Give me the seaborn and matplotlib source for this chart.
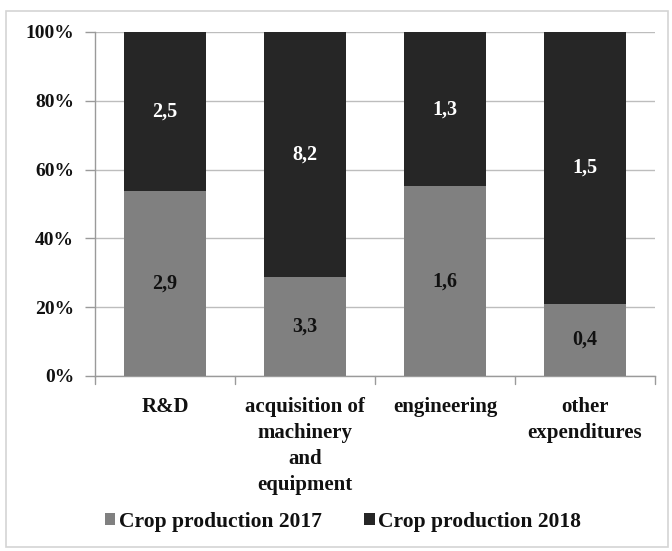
import matplotlib
matplotlib.use("Agg")
import matplotlib.pyplot as plt
import seaborn as sns
import pandas as pd
import numpy as np
from matplotlib.patches import Rectangle, Patch

categories = ["R&D", "acquisition of\nmachinery\nand\nequipment", "engineering", "other\nexpenditures"]
crop_2017 = [2.9, 3.3, 1.6, 0.4]
crop_2018 = [2.5, 8.2, 1.3, 1.5]
series_names = ["Crop production 2017", "Crop production 2018"]
y_ticks = [0, 20, 40, 60, 80, 100]

sns.set_theme(style="white")
plt.rcParams["font.family"] = ["Liberation Serif", "DejaVu Serif"]
plt.rcParams["font.weight"] = "bold"
plt.rcParams["text.color"] = "#111111"
plt.rcParams["xtick.color"] = "#111111"
plt.rcParams["ytick.color"] = "#111111"

totals = np.array(crop_2017) + np.array(crop_2018)
df = pd.DataFrame({
    "category": categories,
    "share_2017": np.array(crop_2017) / totals * 100,
    "total": np.full(len(categories), 100.0),
})

c_light = "#808080"
c_dark = "#262626"
txt = "#111111"

fig = plt.figure(figsize=(6.72, 5.51), dpi=100)
ax = fig.add_axes([95 / 672, 1 - 376 / 551, 560 / 672, 344 / 551])

sns.barplot(data=df, x="category", y="total", color=c_dark, width=0.585,
            saturation=1, linewidth=0, edgecolor="none", ax=ax, zorder=3)
sns.barplot(data=df, x="category", y="share_2017", color=c_light, width=0.585,
            saturation=1, linewidth=0, edgecolor="none", ax=ax, zorder=4)

dark_bars = ax.containers[0]
light_bars = ax.containers[1]
fmt = lambda v: f"{v:.1f}".replace(".", ",")
ax.bar_label(light_bars, labels=[fmt(v) for v in crop_2017], label_type="center",
             color=txt, fontsize=14.5, fontweight="bold", zorder=6)
for bar, low, v in zip(dark_bars, df["share_2017"], crop_2018):
    ax.text(bar.get_x() + bar.get_width() / 2, (low + 100) / 2, fmt(v),
            ha="center", va="center", color="white", fontsize=14.5,
            fontweight="bold", zorder=6)

ax.set_xlim(-0.5, len(categories) - 0.5)
ax.set_ylim(0, 100)
ax.set_yticks(y_ticks)
ax.set_yticklabels([f"{t}%" for t in y_ticks], fontsize=14, fontweight="bold", color=txt)
ax.yaxis.grid(True, color="#bdbdbd", linewidth=1, zorder=0)
ax.set_axisbelow(True)
ax.tick_params(axis="y", length=7, color="#9a9a9a", width=1, pad=8, left=True)
ax.set_xticks(range(len(categories)))
ax.set_xticklabels(categories, fontsize=15, fontweight="bold", linespacing=1.4, color=txt)
ax.tick_params(axis="x", length=0, pad=15)
# category boundary ticks below the baseline
for b in np.arange(-0.5, len(categories), 1.0):
    ax.plot([b, b], [0, -2.3], color="#9a9a9a", lw=1, clip_on=False, zorder=2)
ax.set_xlabel("")
ax.set_ylabel("")
for s in ["top", "right"]:
    ax.spines[s].set_visible(False)
for s in ["left", "bottom"]:
    ax.spines[s].set_color("#9a9a9a")
    ax.spines[s].set_linewidth(1)

handles = [Patch(facecolor=c_light, edgecolor="none"),
           Patch(facecolor=c_dark, edgecolor="none")]
fig.legend(handles, series_names, loc="center", bbox_to_anchor=(343 / 672, 1 - 522 / 551),
           ncol=2, frameon=False, handlelength=0.5, handleheight=0.5,
           handletextpad=0.15, columnspacing=2.0, prop={"weight": "bold", "size": 15.5})

fig.patches.append(Rectangle((6 / 672, 4 / 551), 662 / 672, 536 / 551,
                             transform=fig.transFigure, fill=False,
                             edgecolor="#d4d4d4", linewidth=1.2))

fig.savefig("out.png", dpi=100, facecolor="white")
